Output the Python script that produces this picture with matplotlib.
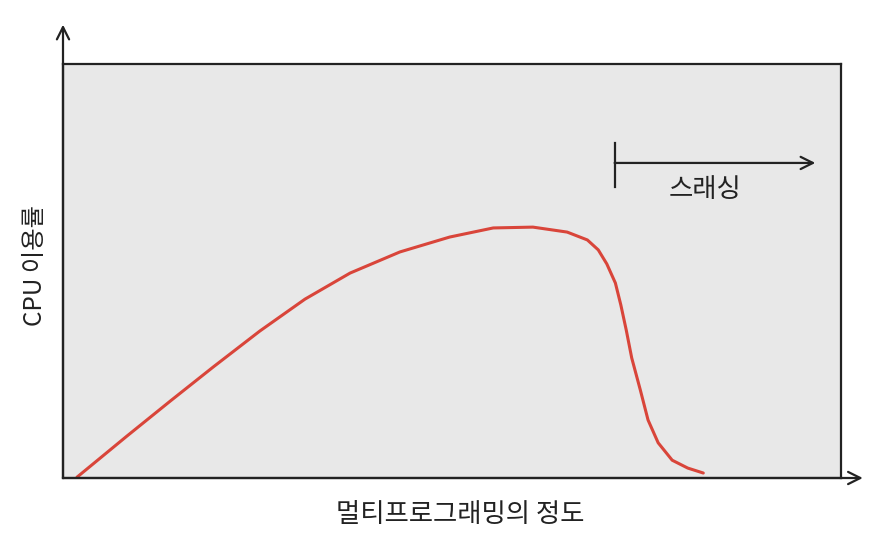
import matplotlib.pyplot as plt
import numpy as np

plt.rcParams['font.family'] = ['Noto Sans CJK KR', 'DejaVu Sans']

# CPU utilisation vs degree of multiprogramming (0-100 scale)
degree = [1.8, 8.2, 13.8, 19.3, 25.3, 31.1, 36.9, 43.3, 49.7, 55.3, 60.4,
          64.8, 67.4, 68.8, 69.9, 71.0, 71.7, 72.4, 73.1, 74.2, 75.2, 76.5,
          78.3, 80.3, 82.3]
cpu_use = [0.2, 10.1, 18.6, 26.8, 35.5, 43.2, 49.5, 54.6, 58.2, 60.4, 60.6,
           59.4, 57.5, 55.1, 51.7, 47.1, 41.8, 35.7, 29.0, 21.3, 14.0, 8.5,
           4.3, 2.4, 1.2]

thrash_start = 70.9
thrash_end = 96.7
thrash_y = 76.1

fig = plt.figure(figsize=(8.87, 5.39), dpi=100)
ax = fig.add_axes([63/887, 61/539, 778/887, 414/539])
ax.set_facecolor('#e8e8e8')
ax.set_xlim(0, 100)
ax.set_ylim(0, 100)
ax.set_xticks([])
ax.set_yticks([])
for s in ax.spines.values():
    s.set_linewidth(1.6)
    s.set_color('#222222')

ax.plot(degree, cpu_use, color='#d9453a', lw=2.2, solid_capstyle='round',
        solid_joinstyle='round')

# axis arrows
ax.annotate('', xy=(0, 1.095), xytext=(0, 0), xycoords='axes fraction',
            arrowprops=dict(arrowstyle='->', lw=1.6, color='#222222',
                            mutation_scale=22, shrinkA=0, shrinkB=0),
            annotation_clip=False)
ax.annotate('', xy=(1.028, 0), xytext=(0, 0), xycoords='axes fraction',
            arrowprops=dict(arrowstyle='->', lw=1.6, color='#222222',
                            mutation_scale=22, shrinkA=0, shrinkB=0),
            annotation_clip=False)

# thrashing marker
ax.plot([thrash_start, thrash_start], [70.3, 80.9], color='#222222', lw=1.6)
ax.annotate('', xy=(thrash_end, thrash_y), xytext=(thrash_start, thrash_y),
            arrowprops=dict(arrowstyle='->', lw=1.6, color='#222222',
                            mutation_scale=22, shrinkA=0, shrinkB=0))
ax.text(82.5, 69.6, '스래싱', ha='center', va='center', fontsize=19,
        color='#222222')

fig.text(460/887, 1 - 514/539, '멀티프로그래밍의 정도', ha='center', va='center',
         fontsize=19, color='#222222')
fig.text(35/887, 1 - 265/539, 'CPU 이용률', ha='center', va='center',
         rotation=90, fontsize=17.5, color='#222222')

fig.savefig('out.png', dpi=100)
